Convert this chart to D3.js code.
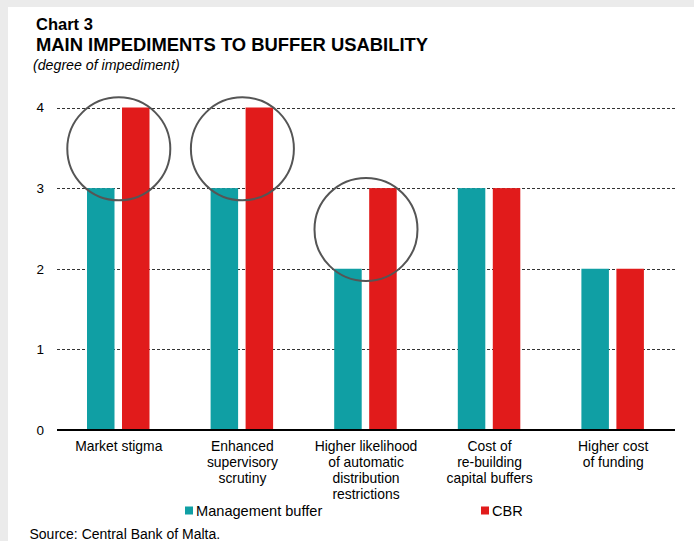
<!DOCTYPE html>
<html>
<head>
<meta charset="utf-8">
<script src="https://cdn.jsdelivr.net/npm/d3@7"></script>
<style>
  html, body { margin: 0; padding: 0; background: #ffffff; }
  svg { display: block; }
  text { font-family: "Liberation Sans", Arial, sans-serif; fill: #000; }
</style>
</head>
<body>
<script>
// ---- data ----
const categories = ["Market stigma", "Enhanced supervisory scrutiny", "Higher likelihood of automatic distribution restrictions", "Cost of re-building capital buffers", "Higher cost of funding"];
const categoryLines = [
  ["Market stigma"],
  ["Enhanced", "supervisory", "scrutiny"],
  ["Higher likelihood", "of automatic", "distribution", "restrictions"],
  ["Cost of", "re-building", "capital buffers"],
  ["Higher cost", "of funding"]
];
const seriesNames = ["Management buffer", "CBR"];
const managementBuffer = [3, 3, 2, 3, 2];
const cbr = [4, 4, 3, 3, 2];
const yTicks = [0, 1, 2, 3, 4];
const circledCategories = ["Market stigma", "Enhanced supervisory scrutiny", "Higher likelihood of automatic distribution restrictions"];

const colors = { "Management buffer": "#109fa4", "CBR": "#e11b1b" };

const W = 694, H = 541;
const svg = d3.select("body").append("svg").attr("width", W).attr("height", H);

// background frame
svg.append("rect").attr("x", 0).attr("y", 0).attr("width", W).attr("height", H).attr("fill", "#ebebeb");
svg.append("rect").attr("x", 8).attr("y", 7).attr("width", W - 8).attr("height", H - 7).attr("fill", "#ffffff");

// titles
svg.append("text").attr("x", 36).attr("y", 30).attr("font-size", 16.5).attr("font-weight", "bold").text("Chart 3");
svg.append("text").attr("x", 36).attr("y", 51).attr("font-size", 18.4).attr("font-weight", "bold").text("MAIN IMPEDIMENTS TO BUFFER USABILITY");
svg.append("text").attr("x", 33).attr("y", 69.5).attr("font-size", 14.2).attr("font-style", "italic").text("(degree of impediment)");

// scales
const x = d3.scaleBand().domain(categories).range([57, 675]).paddingInner(0).paddingOuter(0);
const xs = d3.scaleBand().domain(seriesNames).range([30, 92.5]).paddingInner(0.214).paddingOuter(0);
const y = d3.scaleLinear().domain([0, 4]).range([430, 107.5]);

// gridlines
svg.append("g").selectAll("line").data(yTicks.filter(t => t > 0)).join("line")
  .attr("x1", 57).attr("x2", 675)
  .attr("y1", d => Math.round(y(d)) + 0.5).attr("y2", d => Math.round(y(d)) + 0.5)
  .attr("stroke", "#333").attr("stroke-width", 1).attr("stroke-dasharray", "3,2");

// y axis labels
const yAxis = d3.axisLeft(y).tickValues(yTicks).tickSize(0).tickPadding(0).tickFormat(d3.format("d"));
const yg = svg.append("g").attr("transform", "translate(44,0)").call(yAxis);
yg.select(".domain").remove();
yg.selectAll("text").attr("font-size", 13.5).attr("font-family", "Liberation Sans, Arial, sans-serif").attr("fill", "#000");

// bars
const rows = categories.map((c, i) => ({ cat: c, values: [
  { s: "Management buffer", v: managementBuffer[i] },
  { s: "CBR", v: cbr[i] }
]}));
const gBars = svg.append("g");
rows.forEach(r => {
  gBars.selectAll(null).data(r.values).join("rect")
    .attr("x", d => x(r.cat) + xs(d.s))
    .attr("y", d => y(d.v))
    .attr("width", xs.bandwidth())
    .attr("height", d => y(0) - y(d.v))
    .attr("fill", d => colors[d.s]);
});

// zero axis line
svg.append("line").attr("x1", 57).attr("x2", 675).attr("y1", y(0)).attr("y2", y(0))
  .attr("stroke", "#000").attr("stroke-width", 2);

// circles annotations
svg.append("g").selectAll("circle").data(circledCategories).join("circle")
  .attr("cx", d => x(d) + x.bandwidth() / 2)
  .attr("cy", d => { const i = categories.indexOf(d); return y((managementBuffer[i] + cbr[i]) / 2) + 1; })
  .attr("r", 51.5)
  .attr("fill", "none").attr("stroke", "#555").attr("stroke-width", 2);

// x labels
const gx = svg.append("g");
categories.forEach((c, i) => {
  const t = gx.append("text").attr("text-anchor", "middle").attr("font-size", 13.9)
    .attr("x", x(c) + x.bandwidth() / 2).attr("y", 451);
  categoryLines[i].forEach((ln, k) => {
    t.append("tspan").attr("x", x(c) + x.bandwidth() / 2).attr("y", 451 + k * 16).text(ln);
  });
});

// legend
const legendX = [185, 481];
seriesNames.forEach((s, i) => {
  svg.append("rect").attr("x", legendX[i]).attr("y", 506.5).attr("width", 8).attr("height", 8).attr("fill", colors[s]);
  svg.append("text").attr("x", legendX[i] + 11).attr("y", 515.5).attr("font-size", 14.6).text(s);
});

// source
svg.append("text").attr("x", 29.5).attr("y", 539).attr("font-size", 14).text("Source: Central Bank of Malta.");
</script>
</body>
</html>
